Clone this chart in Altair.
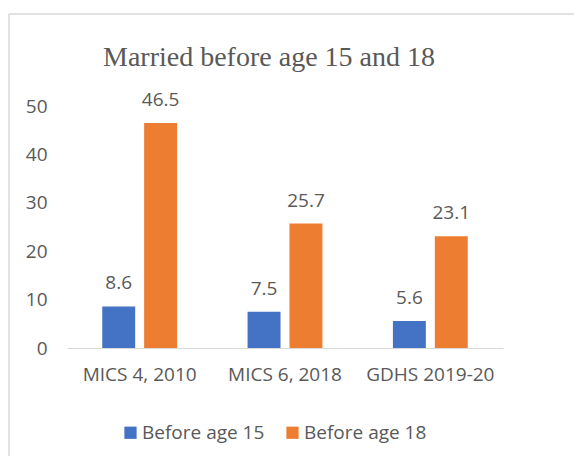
import altair as alt
import pandas as pd

categories = ["MICS 4, 2010", "MICS 6, 2018", "GDHS 2019-20"]
before15 = [8.6, 7.5, 5.6]
before18 = [46.5, 25.7, 23.1]
series = ["Before age 15", "Before age 18"]
colors = ["#4472C4", "#ED7D31"]
y_ticks = [0, 10, 20, 30, 40, 50]

rows = []
for i, c in enumerate(categories):
    rows.append({"cat": c, "series": series[0], "value": before15[i]})
    rows.append({"cat": c, "series": series[1], "value": before18[i]})
df = pd.DataFrame(rows)

FONT = "Open Sans"
TXT = "#595959"

x_enc = alt.X("cat:N", sort=categories, title=None,
              scale=alt.Scale(paddingInner=0.485, paddingOuter=0.2425),
              axis=alt.Axis(labelAngle=0, labelFontSize=19, labelFont=FONT, labelColor=TXT,
                            domainColor="#D9D9D9", domainWidth=1, ticks=False, labelPadding=17))
xo_enc = alt.XOffset("series:N", sort=series,
                     scale=alt.Scale(paddingInner=0.214, paddingOuter=0))
y_enc = alt.Y("value:Q", title=None,
              scale=alt.Scale(domain=[0, 50], nice=False),
              axis=alt.Axis(values=y_ticks, grid=False, domain=False, ticks=False,
                            labelFontSize=19, labelFont=FONT, labelColor=TXT, labelPadding=20))

base = alt.Chart(df)

bars = base.mark_bar().encode(
    x=x_enc, xOffset=xo_enc, y=y_enc,
    color=alt.Color("series:N", sort=series,
                    scale=alt.Scale(domain=series, range=colors),
                    legend=alt.Legend(title=None, orient="none", direction="horizontal",
                                      legendX=54, legendY=317, symbolType="square",
                                      symbolSize=150, symbolStrokeWidth=0,
                                      labelFontSize=19, labelFont=FONT, labelColor=TXT,
                                      labelOffset=2, columnPadding=18)),
)

labels = base.mark_text(baseline="alphabetic", dy=-17, fontSize=19, font=FONT, color=TXT).encode(
    x=alt.X("cat:N", sort=categories), xOffset=alt.XOffset("series:N", sort=series),
    y="value:Q", text=alt.Text("value:Q", format=".1f"),
)

one = alt.Data(values=[{"k": 1}])
border_top = alt.Chart(one).mark_rule(color="#D9D9D9", strokeWidth=1.5).encode(
    x=alt.value(-58), x2=alt.value(600), y=alt.value(-92))
border_left = alt.Chart(one).mark_rule(color="#D9D9D9", strokeWidth=1.5).encode(
    x=alt.value(-58), y=alt.value(-92), y2=alt.value(400))

chart = alt.layer(border_top, border_left, bars, labels).properties(
    width=436, height=242,
    title=alt.TitleParams("Married before age 15 and 18", font="Liberation Serif", fontSize=28,
                          fontWeight="normal", color=TXT, anchor="middle", dx=-16,
                          baseline="alphabetic", frame="group", offset=-81),
    autosize=alt.AutoSizeParams(type="none"),
    padding={"left": 59, "top": 98, "right": 71, "bottom": 108},
).configure_view(stroke=None)

chart.save("out.html", embed_options={"renderer": "svg", "actions": False})
